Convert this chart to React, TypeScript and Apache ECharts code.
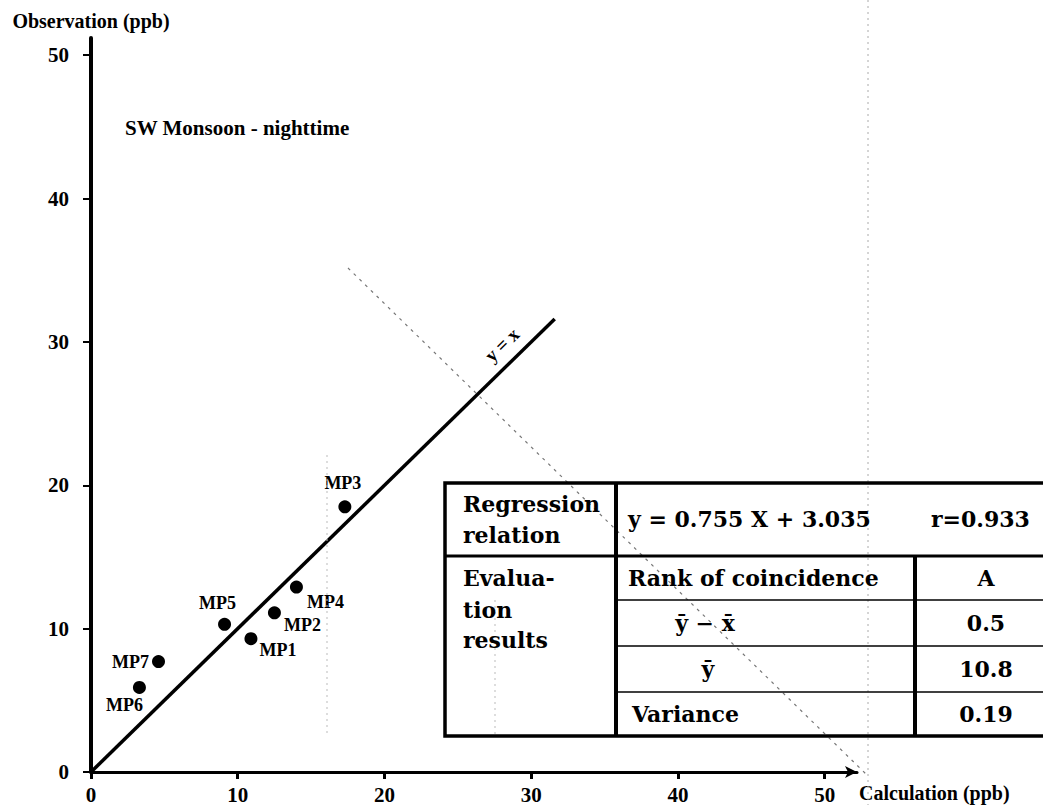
import React, { useEffect, useRef } from "react";
import * as echarts from "echarts";

// ---- data ----
const pointNames = ["MP1", "MP2", "MP3", "MP4", "MP5", "MP6", "MP7"];
const calcValues = [10.9, 12.5, 17.3, 14.0, 9.1, 3.3, 4.6];
const obsValues = [9.3, 11.1, 18.5, 12.9, 10.3, 5.9, 7.7];
const xTicks = [0, 10, 20, 30, 40, 50];
const yTicks = [0, 10, 20, 30, 40, 50];
const identityEnd = 31.6;
const identityLabel = "y = x";
const identityLabelAt = [28.0, 29.8];
const subtitle = "SW Monsoon - nighttime";
const xName = "Calculation (ppb)";
const yName = "Observation (ppb)";
const regressionHead = ["Regression", "relation"];
const regressionText = "y = 0.755 X + 3.035";
const correlationText = "r=0.933";
const evalHead = ["Evalua-", "tion", "results"];
const evalRowLabels = ["Rank of coincidence", "\u0233 \u2212 x\u0304", "\u0233", "Variance"];
const evalRowValues = ["A", "0.5", "10.8", "0.19"];

// ---- styles ----
const SERIF = '"Liberation Serif", "DejaVu Serif", serif';
const TSERIF = '"DejaVu Serif", "Liberation Serif", serif';
const labelOffsets: Record<string, number[]> = {
  MP1: [27, 11],
  MP2: [28, 12],
  MP3: [-2, -24],
  MP4: [29, 15],
  MP5: [-7, -21],
  MP6: [-15, 18],
  MP7: [-28, 0],
};

export default function App() {
  const ref = useRef<HTMLDivElement>(null);
  useEffect(() => {
    const chart = echarts.init(ref.current!, null, { renderer: "svg" });

    const T = { l: 445, t: 483, r: 1062, b: 736, c1: 616, c2: 915, r1: 556, rows: [600, 646, 692] };
    const rowCenters = [578, 623, 669, 714];
    const txt = (text: string, x: number, y: number, align = "left", size = 22) => ({
      type: "text",
      z: 10,
      style: {
        text,
        x,
        y,
        textAlign: align,
        textVerticalAlign: "middle",
        fontFamily: TSERIF,
        fontWeight: "bold",
        fontSize: size,
        fill: "#000",
      },
    });
    const ln = (x1: number, y1: number, x2: number, y2: number, w: number, dash?: number[], color = "#000") => ({
      type: "line",
      z: 9,
      shape: { x1, y1, x2, y2 },
      style: { stroke: color, lineWidth: w, lineDash: dash || null },
    });

    const graphics: any[] = [
      // faint show-through artifacts of the scan
      ln(348, 268, 867, 775, 1.2, [3, 5], "#777"),
      ln(868, 0, 868, 805, 1, [2, 4], "#aaa"),
      ln(327, 455, 327, 735, 1, [2, 4], "#bbb"),
      ln(495, 600, 495, 735, 1, [2, 4], "#bbb"),
      // table frame
      {
        type: "rect",
        z: 9,
        shape: { x: T.l, y: T.t, width: T.r - T.l, height: T.b - T.t },
        style: { fill: "none", stroke: "#000", lineWidth: 3.5 },
      },
      ln(T.c1, T.t, T.c1, T.b, 4),
      ln(T.l, T.r1, T.r, T.r1, 3),
      ln(T.c2, T.r1, T.c2, T.b, 4),
      ...T.rows.map((y) => ln(T.c1, y, T.r, y, 1.5)),
      txt(regressionHead[0], 463, 504),
      txt(regressionHead[1], 463, 535),
      txt(regressionText, 628, 519),
      txt(correlationText, 931, 519),
      txt(evalHead[0], 463, 578),
      txt(evalHead[1], 463, 610),
      txt(evalHead[2], 463, 640),
      txt(evalRowLabels[0], 628, rowCenters[0]),
      txt(evalRowLabels[1], 705, rowCenters[1], "center"),
      txt(evalRowLabels[2], 708, rowCenters[2], "center"),
      txt(evalRowLabels[3], 632, rowCenters[3]),
      ...evalRowValues.map((v, i) => txt(v, 986, rowCenters[i], "center")),
    ];

    const option: any = {
      animation: false,
      backgroundColor: "#fff",
      title: {
        text: subtitle,
        left: 125,
        top: 117,
        padding: 0,
        textStyle: { fontFamily: SERIF, fontWeight: "bold", fontSize: 21, color: "#000" },
      },
      grid: { left: 91, right: 186, top: 38, bottom: 39, containLabel: false },
      xAxis: {
        type: "value",
        min: 0,
        max: 52.2,
        interval: 10,
        name: xName,
        nameLocation: "end",
        nameGap: 2,
        nameTextStyle: {
          fontFamily: SERIF,
          fontWeight: "bold",
          fontSize: 20,
          color: "#000",
          verticalAlign: "top",
          align: "left",
          padding: [11, 0, 0, 0],
        },
        axisLine: {
          show: true,
          symbol: ["none", "arrow"],
          symbolSize: [9, 12],
          lineStyle: { color: "#000", width: 3 },
        },
        axisTick: { show: true, length: 7, customValues: xTicks, lineStyle: { color: "#000", width: 3 } },
        axisLabel: {
          customValues: xTicks,
          margin: 12,
          fontFamily: SERIF,
          fontWeight: "bold",
          fontSize: 21,
          color: "#000",
          formatter: (v: number) => (xTicks.includes(v) ? String(v) : ""),
        },
        splitLine: { show: false },
      },
      yAxis: {
        type: "value",
        min: 0,
        max: 51.2,
        interval: 10,
        name: yName,
        nameLocation: "end",
        nameGap: 7,
        nameTextStyle: { fontFamily: SERIF, fontWeight: "bold", fontSize: 20, color: "#000", align: "center" },
        axisLine: { show: true, lineStyle: { color: "#000", width: 4 } },
        axisTick: { show: true, length: 8, customValues: yTicks, lineStyle: { color: "#000", width: 2 } },
        axisLabel: {
          customValues: yTicks,
          margin: 22,
          fontFamily: SERIF,
          fontWeight: "bold",
          fontSize: 21,
          color: "#000",
          formatter: (v: number) => (yTicks.includes(v) ? String(v) : ""),
        },
        splitLine: { show: false },
      },
      series: [
        {
          type: "line",
          data: [
            [0, 0],
            [identityEnd, identityEnd],
          ],
          symbol: "none",
          lineStyle: { color: "#000", width: 3.5 },
          z: 3,
        },
        {
          type: "scatter",
          data: [{ value: identityLabelAt, name: identityLabel }],
          symbolSize: 0,
          itemStyle: { opacity: 1, color: "#000" },
          label: {
            show: true,
            position: "inside",
            formatter: "{b}",
            rotate: 44,
            fontFamily: SERIF,
            fontWeight: "bold",
            fontSize: 19,
            color: "#000",
          },
          z: 4,
        },
        {
          type: "scatter",
          symbol: "circle",
          symbolSize: 13,
          itemStyle: { color: "#000", opacity: 1 },
          data: pointNames.map((n, i) => ({
            name: n,
            value: [calcValues[i], obsValues[i]],
            label: { offset: labelOffsets[n] },
          })),
          label: {
            show: true,
            position: "inside",
            formatter: "{b}",
            fontFamily: SERIF,
            fontWeight: "bold",
            fontSize: 18,
            color: "#000",
          },
          z: 5,
        },
      ],
      graphic: graphics,
    };

    chart.setOption(option);
    return () => chart.dispose();
  }, []);

  return (
    <div
      ref={ref}
      style={{ position: "absolute", left: 0, top: 0, width: 1043, height: 811, background: "#fff" }}
    />
  );
}
